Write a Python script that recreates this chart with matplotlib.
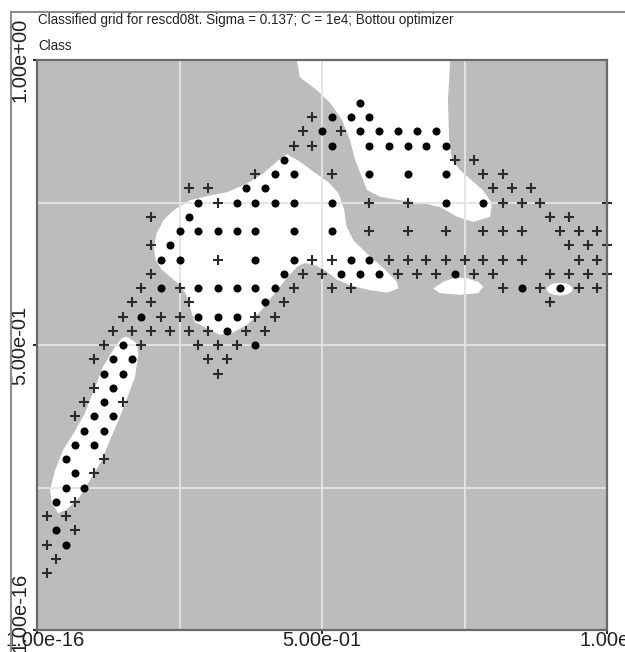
import matplotlib
matplotlib.use("Agg")
import matplotlib.pyplot as plt
from matplotlib import font_manager
from matplotlib.patches import Polygon, Ellipse
from matplotlib.lines import Line2D

# ---------------- data ----------------
TITLE = "Classified grid for rescd08t. Sigma = 0.137; C = 1e4; Bottou optimizer"
SUBTITLE = "Class"
x_tick_values = [0.0, 0.5, 1.0]
x_tick_labels = ["1.00e-16", "5.00e-01", "1.00e+00"]
y_tick_values = [0.0, 0.5, 1.0]
y_tick_labels = ["1.00e-16", "5.00e-01", "1.00e+00"]
grid_values = [0.25, 0.5, 0.75]

# class "+" samples: row y -> x positions
plus_rows = {
    0.100: [0.017],
    0.125: [0.033],
    0.150: [0.017],
    0.175: [0.067],
    0.200: [0.017, 0.05],
    0.225: [0.067],
    0.275: [0.1],
    0.300: [0.117],
    0.375: [0.067],
    0.400: [0.083, 0.15],
    0.425: [0.1],
    0.450: [0.317],
    0.475: [0.1, 0.3, 0.333],
    0.500: [0.117, 0.183, 0.283, 0.317, 0.35],
    0.525: [0.133, 0.167, 0.2, 0.233, 0.267, 0.3, 0.367, 0.4],
    0.550: [0.15, 0.217, 0.25, 0.383, 0.417],
    0.575: [0.167, 0.2, 0.267, 0.433, 0.9],
    0.600: [0.183, 0.25, 0.45, 0.517, 0.55, 0.817, 0.883, 0.95, 0.983],
    0.625: [0.2, 0.467, 0.5, 0.633, 0.667, 0.7, 0.767, 0.8, 0.9, 0.933, 0.967, 1.0],
    0.650: [0.317, 0.483, 0.517, 0.617, 0.65, 0.683, 0.717, 0.75, 0.783, 0.817, 0.85, 0.95, 0.983],
    0.675: [0.2, 0.933, 0.967, 1.0],
    0.700: [0.583, 0.65, 0.717, 0.783, 0.817, 0.85, 0.917, 0.95, 0.983],
    0.725: [0.2, 0.9, 0.933],
    0.750: [0.317, 0.583, 0.65, 0.817, 0.85, 0.883, 1.0],
    0.775: [0.267, 0.3, 0.8, 0.833, 0.867],
    0.800: [0.383, 0.517, 0.783, 0.817],
    0.825: [0.733, 0.767],
    0.850: [0.45, 0.483],
    0.875: [0.467, 0.533],
    0.900: [0.483],
}

# class "dot" samples: row y -> x positions
dot_rows = {
    0.150: [0.05],
    0.175: [0.033],
    0.225: [0.033],
    0.250: [0.05, 0.083],
    0.275: [0.067],
    0.300: [0.05],
    0.325: [0.067, 0.1],
    0.350: [0.083, 0.117],
    0.375: [0.1, 0.133],
    0.400: [0.117],
    0.425: [0.133],
    0.450: [0.117, 0.15],
    0.475: [0.133, 0.167],
    0.500: [0.15, 0.383],
    0.525: [0.333],
    0.550: [0.183, 0.283, 0.317, 0.35],
    0.575: [0.4],
    0.600: [0.217, 0.283, 0.317, 0.35, 0.383, 0.417, 0.85, 0.917],
    0.625: [0.433, 0.533, 0.567, 0.6, 0.733],
    0.650: [0.217, 0.25, 0.383, 0.45, 0.55, 0.583],
    0.675: [0.233],
    0.700: [0.25, 0.283, 0.317, 0.35, 0.383, 0.45, 0.517],
    0.725: [0.267],
    0.750: [0.283, 0.35, 0.383, 0.417, 0.45, 0.517, 0.717, 0.783],
    0.775: [0.367, 0.4],
    0.800: [0.417, 0.45, 0.583, 0.65, 0.717],
    0.825: [0.433],
    0.850: [0.517, 0.583, 0.617, 0.65, 0.683, 0.717],
    0.875: [0.5, 0.567, 0.6, 0.633, 0.667, 0.7],
    0.900: [0.517, 0.55, 0.583],
    0.925: [0.567],
}

# regions classified as "dot" (white), outlines in data units
region_band = [(0.157, 0.515), (0.175, 0.503), (0.178, 0.485), (0.172, 0.444), (0.157, 0.404),
               (0.143, 0.368), (0.128, 0.333), (0.114, 0.298), (0.093, 0.263), (0.075, 0.234),
               (0.052, 0.211), (0.037, 0.205), (0.026, 0.222), (0.023, 0.246), (0.032, 0.281),
               (0.046, 0.316), (0.064, 0.345), (0.084, 0.380), (0.100, 0.421), (0.116, 0.462),
               (0.137, 0.497), (0.149, 0.512)]
region_middle = [(0.438, 0.835), (0.461, 0.822), (0.485, 0.804), (0.511, 0.786), (0.529, 0.766),
                 (0.539, 0.737), (0.543, 0.708), (0.555, 0.684), (0.578, 0.661), (0.608, 0.635),
                 (0.631, 0.611), (0.634, 0.599), (0.614, 0.592), (0.584, 0.596), (0.549, 0.605),
                 (0.526, 0.615), (0.508, 0.629), (0.491, 0.639), (0.470, 0.644), (0.456, 0.637),
                 (0.438, 0.617), (0.415, 0.588), (0.391, 0.558), (0.368, 0.535), (0.344, 0.522),
                 (0.321, 0.518), (0.304, 0.526), (0.277, 0.540), (0.268, 0.567), (0.262, 0.588),
                 (0.251, 0.605), (0.233, 0.620), (0.219, 0.632), (0.208, 0.649), (0.205, 0.672),
                 (0.210, 0.696), (0.222, 0.719), (0.239, 0.736), (0.268, 0.754), (0.298, 0.761),
                 (0.333, 0.768), (0.368, 0.783), (0.397, 0.801), (0.421, 0.822)]
region_top = [(0.456, 1.0), (0.461, 0.970), (0.491, 0.947), (0.514, 0.925), (0.535, 0.895),
              (0.549, 0.860), (0.558, 0.825), (0.567, 0.802), (0.579, 0.772), (0.602, 0.760),
              (0.637, 0.754), (0.677, 0.749), (0.707, 0.742), (0.737, 0.725), (0.765, 0.716),
              (0.795, 0.725), (0.798, 0.749), (0.782, 0.772), (0.742, 0.807), (0.728, 0.825),
              (0.723, 0.860), (0.721, 0.930), (0.725, 1.0)]
region_small = [(0.695, 0.599), (0.713, 0.611), (0.733, 0.618), (0.754, 0.617), (0.774, 0.611),
                (0.783, 0.602), (0.774, 0.591), (0.742, 0.588), (0.707, 0.591)]
region_tiny_center = (0.917, 0.598)
region_tiny_size = (0.045, 0.022)

# ---------------- figure ----------------
W, H = 625, 652
fig = plt.figure(figsize=(W / 100, H / 100), dpi=100)
fig.patch.set_facecolor("white")
ax = fig.add_axes([37 / W, 1 - 630 / H, 570 / W, 570 / H])
ax.set_xlim(0, 1)
ax.set_ylim(0, 1)
ax.set_facecolor("#bcbcbc")

for poly in (region_band, region_middle, region_top, region_small):
    ax.add_patch(Polygon(poly, closed=True, facecolor="white", edgecolor="none", zorder=1))
ax.add_patch(Ellipse(region_tiny_center, region_tiny_size[0], region_tiny_size[1],
                     facecolor="white", edgecolor="none", zorder=1))

for g in grid_values:
    ax.axvline(g, color="#e4e4e4", lw=1.3, zorder=2)
    ax.axhline(g, color="#e4e4e4", lw=1.3, zorder=2)

px, py = [], []
for yv, xs in plus_rows.items():
    px += xs
    py += [yv] * len(xs)
dx, dy = [], []
for yv, xs in dot_rows.items():
    dx += xs
    dy += [yv] * len(xs)

ax.plot(px, py, linestyle="none", marker="+", ms=7.2, mew=1.5, color="#2b2b2b", zorder=3, clip_on=False)
ax.plot(dx, dy, linestyle="none", marker="o", ms=5.8, mew=0, color="black", zorder=3)

for s in ax.spines.values():
    s.set_color("#6a6a6a")
    s.set_linewidth(1.6)
    s.set_zorder(5)

ax.set_xticks(x_tick_values)
ax.set_yticks(y_tick_values)
ax.set_xticklabels([])
ax.set_yticklabels([])
ax.tick_params(length=3, width=1.2, color="black")

avail = {f.name for f in font_manager.fontManager.ttflist}
narrow = "Liberation Sans Narrow" in avail
title_family = ["Liberation Sans Narrow", "DejaVu Sans"] if narrow else ["Liberation Sans", "DejaVu Sans"]
tick_family = ["Liberation Sans", "DejaVu Sans"]

t_title = fig.text(38 / W, 1 - 20 / H, TITLE, family=title_family, fontsize=10,
                   color="#222222", ha="left", va="center")
t_sub = fig.text(38 / W, 1 - 46 / H, SUBTITLE, family=title_family, fontsize=10,
                 color="#222222", ha="left", va="center")

tick_texts = []
x_label_offsets = [8, 0, 15]
for v, lab, off in zip(x_tick_values, x_tick_labels, x_label_offsets):
    tick_texts.append(ax.annotate(lab, xy=(v, 0), xycoords="data", xytext=(off, -11),
                                  textcoords="offset pixels", ha="center", va="center",
                                  family=tick_family, fontsize=12, color="#222222",
                                  annotation_clip=False))
y_label_offsets = [18, 0, 0]
for v, lab, off in zip(y_tick_values, y_tick_labels, y_label_offsets):
    tick_texts.append(ax.annotate(lab, xy=(0, v), xycoords="data", xytext=(-17, off),
                                  textcoords="offset pixels", ha="center", va="center",
                                  rotation=90, family=tick_family, fontsize=12,
                                  color="#222222", annotation_clip=False))

# scale fonts so text widths match the reference
fig.canvas.draw()
r = fig.canvas.get_renderer()
tw = t_title.get_window_extent(r).width
title_size = 10 * 417.0 / tw
t_title.set_fontsize(title_size)
t_sub.set_fontsize(title_size)
lw_ = tick_texts[1].get_window_extent(r).width
tick_size = 12 * 79.0 / lw_
for t in tick_texts:
    t.set_fontsize(tick_size)

# outer panel frame
fig.add_artist(Line2D([11 / W, 1], [1 - 12 / H, 1 - 12 / H], transform=fig.transFigure,
                      color="#8c8c8c", lw=1.5))
fig.add_artist(Line2D([11 / W, 11 / W], [0, 1 - 12 / H], transform=fig.transFigure,
                      color="#8c8c8c", lw=1.5))

fig.savefig("out.png", dpi=100)
